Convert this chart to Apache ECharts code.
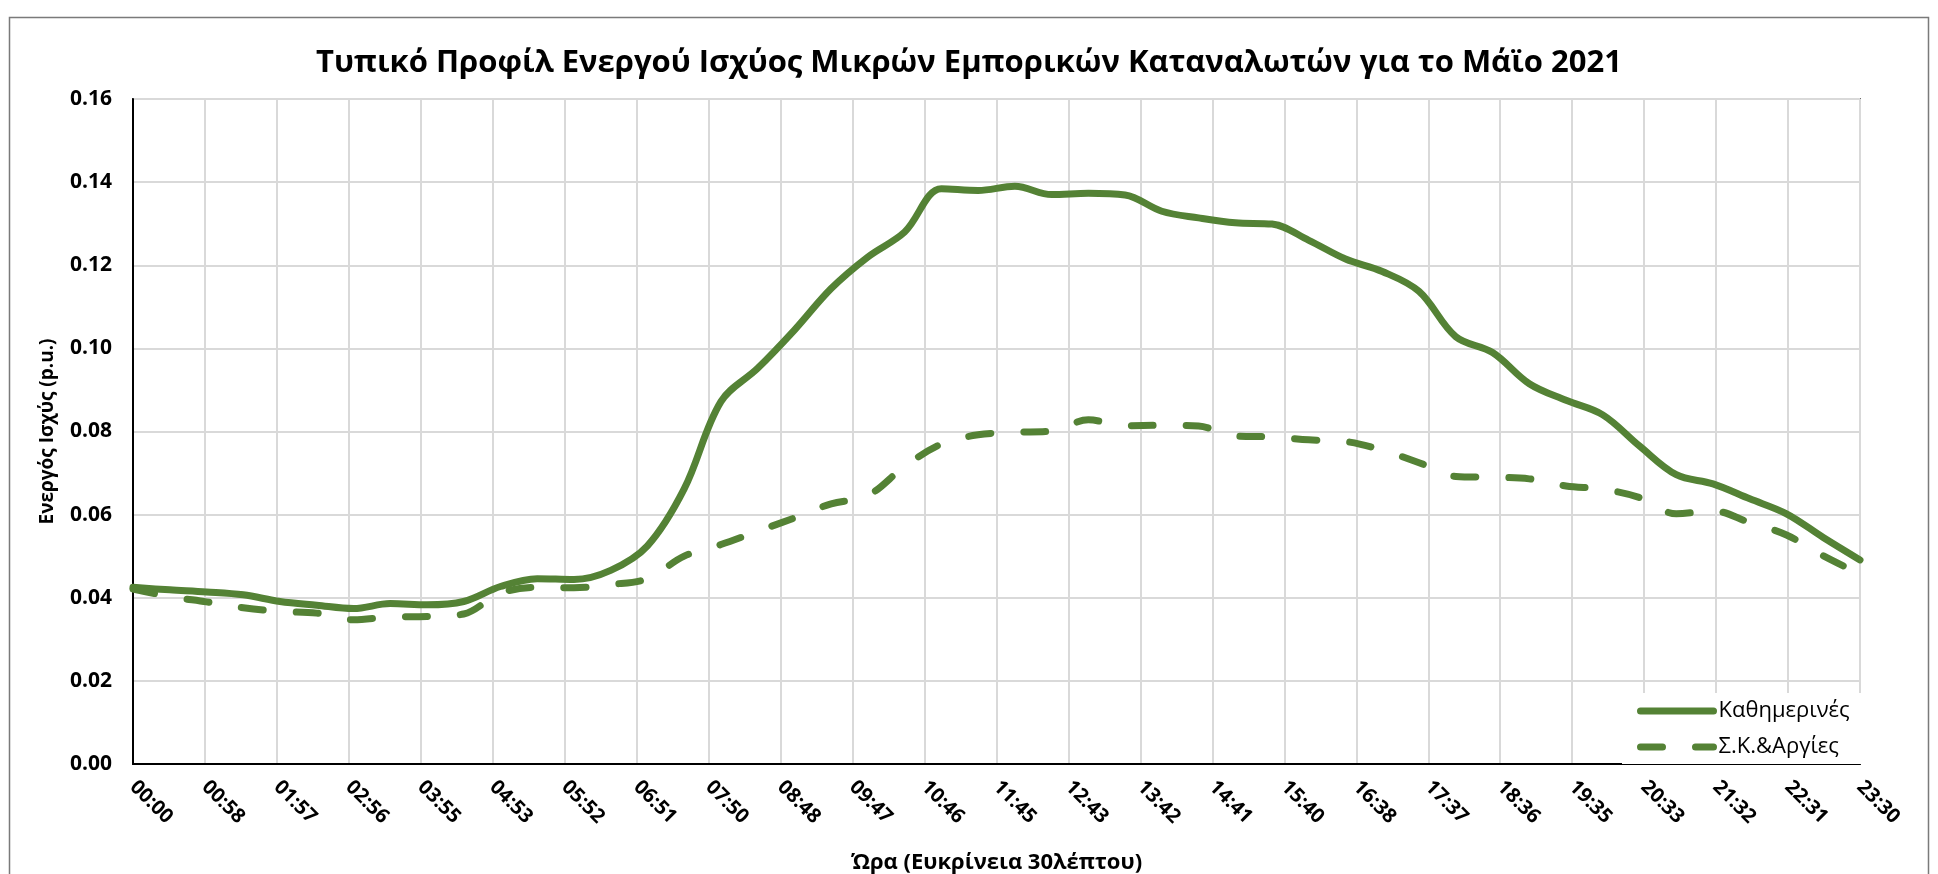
<!DOCTYPE html>
<html>
<head>
<meta charset="utf-8">
<script src="https://cdn.jsdelivr.net/npm/echarts@6/dist/echarts.min.js"></script>
<style>
html,body{margin:0;padding:0;background:#fff;}
#chart{width:1938px;height:874px;}
</style>
</head>
<body>
<div id="chart"></div>
<script>
const titleText = 'Τυπικό Προφίλ Ενεργού Ισχύος Μικρών Εμπορικών Καταναλωτών για το Μάϊο 2021';
const xAxisName = 'Ώρα (Ευκρίνεια 30λέπτου)';
const yAxisName = 'Ενεργός Ισχύς (p.u.)';
const seriesNames = ['Καθημερινές', 'Σ.Κ.&Αργίες'];

const times = ['00:00','00:30','01:00','01:30','02:00','02:30','03:00','03:30','04:00','04:30',
  '05:00','05:30','06:00','06:30','07:00','07:30','08:00','08:30','09:00','09:30',
  '10:00','10:30','11:00','11:30','12:00','12:30','13:00','13:30','14:00','14:30',
  '15:00','15:30','16:00','16:30','17:00','17:30','18:00','18:30','19:00','19:30',
  '20:00','20:30','21:00','21:30','22:00','22:30','23:00','23:30'];

const weekdays = [0.0425,0.0419,0.0414,0.0407,0.0391,0.0382,0.0374,0.0386,0.0383,0.0391,
  0.0427,0.0446,0.0444,0.0466,0.0525,0.0662,0.0872,0.0952,0.1044,0.1144,
  0.1220,0.1280,0.1384,0.1380,0.1390,0.1370,0.1373,0.1369,0.1330,0.1314,
  0.1302,0.1299,0.1260,0.1215,0.1185,0.1137,0.1028,0.0990,0.0915,0.0875,
  0.0840,0.0765,0.0696,0.0674,0.0638,0.0602,0.0545,0.0491];

const weekends = [0.0421,0.0403,0.0390,0.0376,0.0367,0.0363,0.0347,0.0354,0.0355,0.0361,
  0.0411,0.0425,0.0424,0.0432,0.0446,0.0500,0.0528,0.0560,0.0592,0.0626,
  0.0646,0.0716,0.0770,0.0792,0.0798,0.0801,0.0828,0.0814,0.0815,0.0813,
  0.0789,0.0787,0.0780,0.0776,0.0755,0.0725,0.0692,0.0690,0.0686,0.0669,
  0.0661,0.0641,0.0602,0.0609,0.0581,0.0551,0.0501,0.0457];

const xTickLabels = ['00:00','00:58','01:57','02:56','03:55','04:53','05:52','06:51','07:50','08:48',
  '09:47','10:46','11:45','12:43','13:42','14:41','15:40','16:38','17:37','18:36',
  '19:35','20:33','21:32','22:31','23:30'];
const yTickLabels = ['0.00','0.02','0.04','0.06','0.08','0.10','0.12','0.14','0.16'];

const X_MAX = 1410;        // 23:30 in minutes
const X_STEP = X_MAX / (xTickLabels.length - 1);
const Y_STEP = 0.02;
const Y_MAX = Y_STEP * (yTickLabels.length - 1);

function toMin(s){ const p = s.split(':'); return (+p[0]) * 60 + (+p[1]); }
const pairs = arr => arr.map((v, i) => [toMin(times[i]), v]);

const FONT = "'Open Sans', 'Noto Sans', sans-serif";
const GREEN = '#548235';

const chart = echarts.init(document.getElementById('chart'), null, {renderer: 'canvas'});
chart.setOption({
  backgroundColor: '#fff',
  animation: false,
  title: {
    text: titleText,
    left: 'center',
    top: 43,
    textStyle: {fontFamily: FONT, fontSize: 31, fontWeight: 'bold', color: '#000'}
  },
  graphic: [{
    type: 'rect', silent: true, z: -1,
    shape: {x: 9.5, y: 17.5, width: 1919, height: 900},
    style: {fill: 'none', stroke: '#7a7a7a', lineWidth: 1.5}
  }],
  legend: {
    orient: 'vertical',
    left: 1622, top: 693,
    backgroundColor: '#fff',
    padding: [7, 12, 6, 15],
    itemWidth: 73, itemHeight: 22, itemGap: 14,
    itemStyle: {opacity: 0},
    lineStyle: {width: 7, cap: 'round'},
    textStyle: {fontFamily: FONT, fontSize: 22, color: '#000'},
    data: seriesNames
  },
  grid: {
    left: 133, right: 78, top: 99, bottom: 110,
    containLabel: false, outerBoundsMode: 'none',
    show: true, borderColor: '#000', borderWidth: 1.5, backgroundColor: 'transparent'
  },
  xAxis: {
    type: 'value', min: 0, max: X_MAX, interval: X_STEP,
    name: xAxisName, nameLocation: 'middle', nameGap: 88,
    nameTextStyle: {fontFamily: FONT, fontSize: 22, fontWeight: 'bold', color: '#000'},
    axisLine: {show: true, onZero: false, lineStyle: {color: '#000', width: 2}},
    axisTick: {show: false},
    splitLine: {show: true, lineStyle: {color: '#d9d9d9', width: 2}},
    axisLabel: {
      rotate: -45, margin: 20, showMinLabel: true, showMaxLabel: true,
      fontFamily: FONT, fontSize: 20, fontWeight: 'bold', color: '#000',
      formatter: v => xTickLabels[Math.round(v / X_STEP)] || ''
    }
  },
  yAxis: {
    type: 'value', min: 0, max: Y_MAX, interval: Y_STEP,
    name: yAxisName, nameLocation: 'middle', nameRotate: 90, nameGap: 76,
    nameTextStyle: {fontFamily: FONT, fontSize: 19, fontWeight: 'bold', color: '#000'},
    axisLine: {show: true, lineStyle: {color: '#000', width: 2}},
    axisTick: {show: false},
    splitLine: {show: true, lineStyle: {color: '#d9d9d9', width: 2}},
    axisLabel: {
      margin: 21, fontFamily: FONT, fontSize: 21, fontWeight: 'bold', color: '#000',
      formatter: v => yTickLabels[Math.round(v / Y_STEP)] || ''
    }
  },
  series: [
    {
      name: seriesNames[0], type: 'line', data: pairs(weekdays),
      smooth: 0.35, showSymbol: false, symbol: 'none',
      lineStyle: {color: GREEN, width: 7, cap: 'round', join: 'round'},
      itemStyle: {color: GREEN}
    },
    {
      name: seriesNames[1], type: 'line', data: pairs(weekends),
      smooth: 0.35, showSymbol: false, symbol: 'none',
      lineStyle: {color: GREEN, width: 7, type: [22, 33], cap: 'round', join: 'round'},
      itemStyle: {color: GREEN}
    }
  ]
});
</script>
</body>
</html>
